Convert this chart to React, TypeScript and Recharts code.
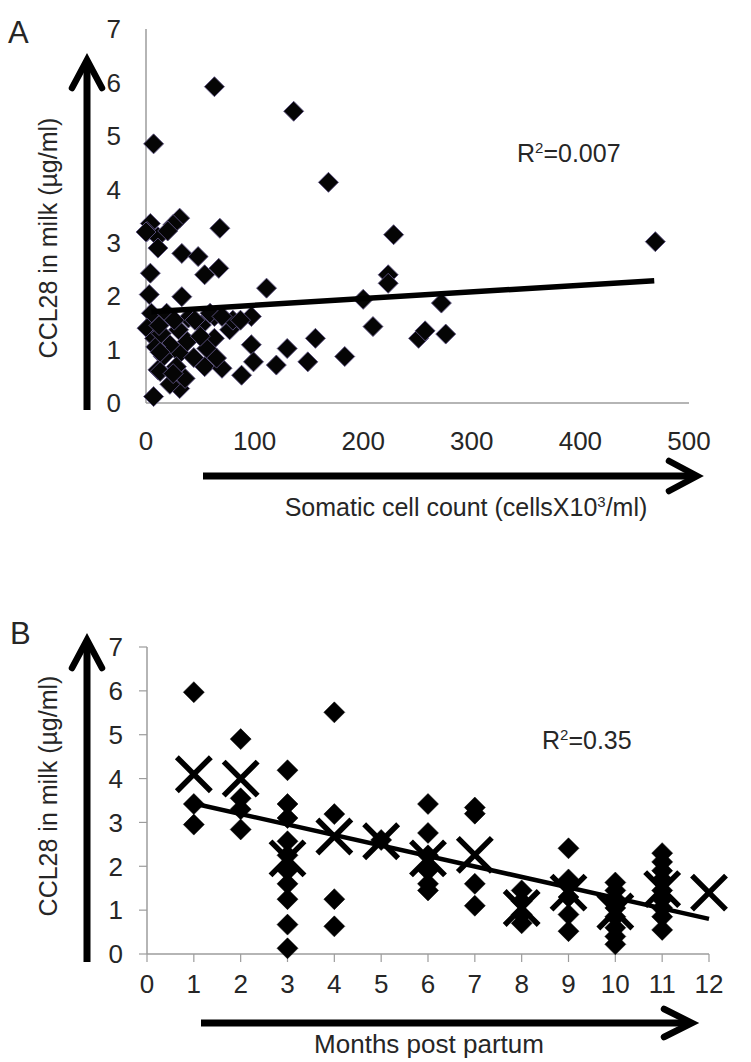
import React from "react";
import { ScatterChart, Scatter, XAxis, YAxis } from "recharts";

// ---------- Panel A data: somatic cell count vs CCL28 ----------
const sccA = [63, 136, 7, 168, 68, 228, 4, 1, 11, 11, 31, 25, 20, 33, 48, 54, 67, 4, 223, 223,
  111, 3, 33, 200, 272, 469, 5, 19, 97, 1, 8, 30, 39, 51, 63, 63, 77, 80, 87, 59,
  70, 97, 130, 156, 56, 31, 22, 16, 11, 28, 54, 70, 65, 99, 120, 149, 88, 31, 36, 7,
  22, 209, 183, 251, 257, 276, 13, 25, 45, 9, 14, 38, 44, 26, 12, 0, 50, 13];
const ccl28A = [5.92, 5.46, 4.85, 4.13, 3.27, 3.15, 3.36, 3.21, 3.11, 2.90, 3.46, 3.34, 3.22, 2.80, 2.74, 2.40, 2.52, 2.43, 2.40, 2.24,
  2.15, 2.03, 1.99, 1.94, 1.87, 3.02, 1.68, 1.68, 1.62, 1.40, 1.21, 1.37, 1.59, 1.46, 1.62, 1.21, 1.37, 1.55, 1.55, 1.68,
  1.62, 1.09, 1.02, 1.21, 1.02, 0.93, 1.09, 0.87, 0.62, 0.68, 0.68, 0.65, 0.84, 0.77, 0.71, 0.77, 0.52, 0.27, 0.46, 0.12,
  0.35, 1.43, 0.87, 1.21, 1.35, 1.29, 0.59, 0.55, 1.55, 1.05, 1.30, 1.15, 0.85, 1.55, 1.45, 3.20, 1.25, 0.95];
const trendAx = [5, 468];
const trendAy = [1.71, 2.29];
const xTicksA = [0, 100, 200, 300, 400, 500];
const yTicks = [0, 1, 2, 3, 4, 5, 6, 7];

// ---------- Panel B data: months post partum ----------
const monthsB = [
  1, 1, 1,
  2, 2, 2, 2,
  3, 3, 3, 3, 3, 3, 3, 3, 3, 3,
  4, 4, 4, 4,
  5,
  6, 6, 6, 6, 6, 6,
  7, 7, 7, 7,
  8, 8, 8, 8,
  9, 9, 9, 9, 9,
  10, 10, 10, 10, 10, 10, 10, 10,
  11, 11, 11, 11, 11, 11, 11, 11, 11,
];
const ccl28B = [
  5.97, 3.42, 2.95,
  4.90, 3.55, 3.30, 2.84,
  4.19, 3.42, 3.10, 2.57, 2.25, 1.90, 1.60, 1.25, 0.67, 0.13,
  5.51, 3.19, 1.25, 0.63,
  2.60,
  3.42, 2.76, 2.25, 1.90, 1.60, 1.45,
  3.34, 3.20, 1.60, 1.10,
  1.45, 1.20, 0.90, 0.70,
  2.41, 1.70, 1.30, 0.90, 0.52,
  1.63, 1.45, 1.25, 1.05, 0.85, 0.60, 0.40, 0.22,
  2.30, 2.10, 1.90, 1.70, 1.45, 1.25, 1.05, 0.85, 0.55,
];
const meanMonths = [1, 2, 3, 4, 5, 6, 7, 8, 9, 10, 11, 12];
const meanValues = [4.10, 4.00, 2.18, 2.68, 2.57, 2.18, 2.26, 1.05, 1.40, 0.97, 1.48, 1.40];
const trendBx = [1, 12];
const trendBy = [3.43, 0.80];
const xTicksB = [0, 1, 2, 3, 4, 5, 6, 7, 8, 9, 10, 11, 12];

const zip = (xs: number[], ys: number[]) => xs.map((x, i) => ({ x, y: ys[i] }));
const dataA = zip(sccA, ccl28A);
const lineA = zip(trendAx, trendAy);
const dataB = zip(monthsB, ccl28B);
const meansB = zip(meanMonths, meanValues);
const lineB = zip(trendBx, trendBy);

const FONT = "'Liberation Sans', Arial, sans-serif";
const TEXT = "#262626";
const AXIS = "#9c9c9c";

const diamond = (h: number, fill: string, stroke: string, sw: number) => (props: any) => {
  const { cx, cy } = props;
  if (cx == null || cy == null) return <g />;
  return (
    <path
      d={`M${cx},${cy - h} L${cx + h},${cy} L${cx},${cy + h} L${cx - h},${cy} Z`}
      fill={fill}
      stroke={stroke}
      strokeWidth={sw}
    />
  );
};

const cross = (h: number) => (props: any) => {
  const { cx, cy } = props;
  if (cx == null || cy == null) return <g />;
  return (
    <path
      d={`M${cx - h},${cy - h} L${cx + h},${cy + h} M${cx - h},${cy + h} L${cx + h},${cy - h}`}
      stroke="#000"
      strokeWidth={5.5}
      fill="none"
    />
  );
};

const noShape = () => <g />;

const tickStyle = { fontSize: 26, fill: TEXT, fontFamily: FONT };

const Arrow = ({ x1, y1, x2, y2, head }: { x1: number; y1: number; x2: number; y2: number; head: string }) => (
  <g>
    <line x1={x1} y1={y1} x2={x2} y2={y2} stroke="#000" strokeWidth={7} />
    <polyline points={head} fill="none" stroke="#000" strokeWidth={6.5} strokeLinecap="round" strokeLinejoin="miter" />
  </g>
);

export default function App() {
  return (
    <div style={{ position: "absolute", left: 0, top: 0, width: 751, height: 1062, background: "#fff", overflow: "hidden" }}>
      {/* Panel A */}
      <div style={{ position: "absolute", left: 0, top: 0 }}>
        <ScatterChart width={751} height={540} margin={{ top: 29, right: 62, bottom: 77, left: 0 }}>
          <XAxis
            type="number"
            dataKey="x"
            domain={[0, 500]}
            ticks={xTicksA}
            height={60}
            tickLine={false}
            tickSize={8}
            tickMargin={21}
            axisLine={{ stroke: AXIS, strokeWidth: 1.5 }}
            tick={tickStyle}
            interval={0}
          />
          <YAxis
            type="number"
            dataKey="y"
            domain={[0, 7]}
            ticks={yTicks}
            width={146}
            tickLine={false}
            tickSize={8}
            tickMargin={17}
            axisLine={{ stroke: AXIS, strokeWidth: 1.5 }}
            tick={tickStyle}
            interval={0}
          />
          <Scatter data={dataA} shape={diamond(10, "#050505", "#5d5482", 0.9)} isAnimationActive={false} />
          <Scatter
            data={lineA}
            shape={noShape}
            line={{ stroke: "#000", strokeWidth: 5.5 }}
            lineType="joint"
            isAnimationActive={false}
          />
        </ScatterChart>
      </div>

      {/* Panel B */}
      <div style={{ position: "absolute", left: 0, top: 560 }}>
        <ScatterChart width={751} height={500} margin={{ top: 87, right: 42, bottom: 66, left: 0 }}>
          <XAxis
            type="number"
            dataKey="x"
            domain={[0, 12]}
            ticks={xTicksB}
            height={40}
            tickSize={8}
            tickMargin={13}
            tickLine={{ stroke: AXIS, strokeWidth: 1.2 }}
            axisLine={{ stroke: AXIS, strokeWidth: 1.5 }}
            tick={tickStyle}
            interval={0}
          />
          <YAxis
            type="number"
            dataKey="y"
            domain={[0, 7]}
            ticks={yTicks}
            width={147}
            tickSize={8}
            tickMargin={16}
            tickLine={{ stroke: AXIS, strokeWidth: 1.2 }}
            axisLine={{ stroke: AXIS, strokeWidth: 1.5 }}
            tick={tickStyle}
            interval={0}
          />
          <Scatter data={dataB} shape={diamond(10.5, "#000", "#000", 0.5)} isAnimationActive={false} />
          <Scatter data={meansB} shape={cross(17)} isAnimationActive={false} />
          <Scatter
            data={lineB}
            shape={noShape}
            line={{ stroke: "#000", strokeWidth: 4.5 }}
            lineType="joint"
            isAnimationActive={false}
          />
        </ScatterChart>
      </div>

      {/* Decorations: arrows, titles, labels */}
      <svg width={751} height={1062} style={{ position: "absolute", left: 0, top: 0, pointerEvents: "none" }}>
        <g fontFamily={FONT} fill={TEXT}>
          <text x={8} y={43} fontSize={31}>A</text>
          <text x={10} y={644} fontSize={31}>B</text>

          <text transform="translate(57,238) rotate(-90)" textAnchor="middle" fontSize={25}>CCL28 in milk (µg/ml)</text>
          <text transform="translate(57,796) rotate(-90)" textAnchor="middle" fontSize={25}>CCL28 in milk (µg/ml)</text>

          <text x={466} y={516} textAnchor="middle" fontSize={25}>
            Somatic cell count (cellsX10<tspan dy={-9} fontSize={15}>3</tspan><tspan dy={9}>/ml)</tspan>
          </text>
          <text x={429} y={1053} textAnchor="middle" fontSize={26}>Months  post partum</text>

          <text x={517} y={162} fontSize={25}>
            R<tspan dy={-9} fontSize={15}>2</tspan><tspan dy={9}>=0.007</tspan>
          </text>
          <text x={542} y={749} fontSize={25}>
            R<tspan dy={-9} fontSize={15}>2</tspan><tspan dy={9}>=0.35</tspan>
          </text>
        </g>

        <Arrow x1={87} y1={410} x2={87} y2={62} head="72,88 87,60 102,88" />
        <Arrow x1={203} y1={476} x2={694} y2={476} head="669,461 697,476 669,491" />
        <Arrow x1={87} y1={962} x2={87} y2={643} head="72,668 87,640 102,668" />
        <Arrow x1={201} y1={1023} x2={689} y2={1023} head="664,1009 692,1023 664,1037" />
      </svg>
    </div>
  );
}
